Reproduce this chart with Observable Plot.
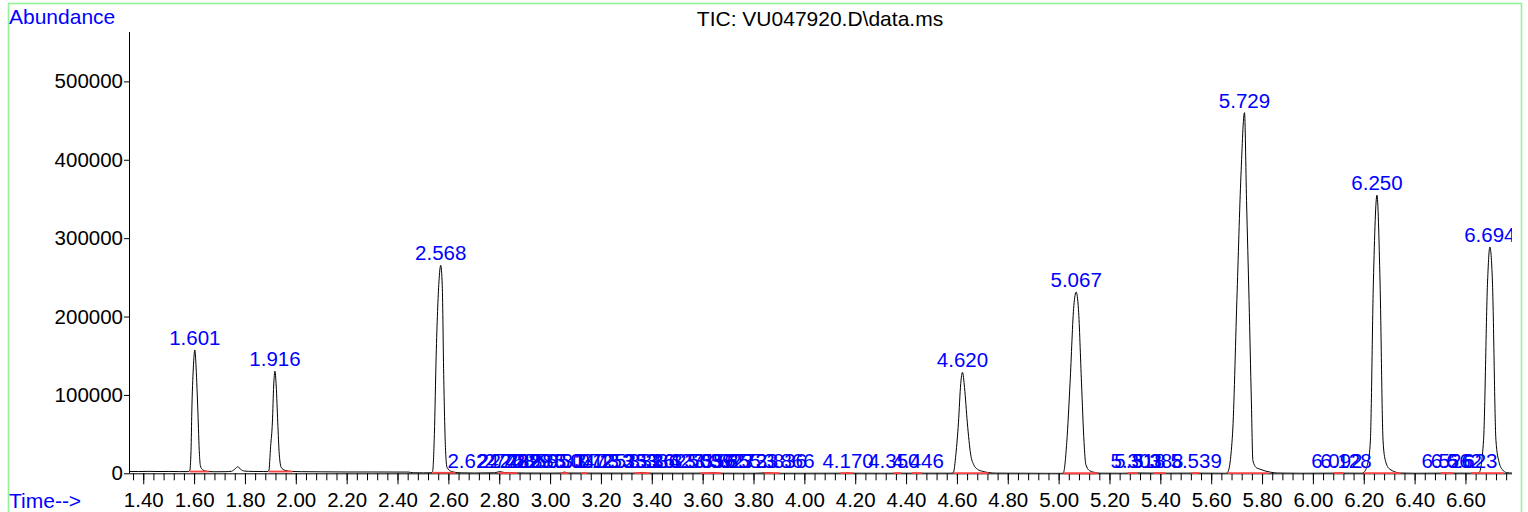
<!DOCTYPE html>
<html><head><meta charset="utf-8">
<script src="https://cdn.jsdelivr.net/npm/d3@7"></script>
<script src="https://cdn.jsdelivr.net/npm/@observablehq/plot@0.6"></script>
<style>html,body{margin:0;padding:0;background:#fff;} svg{display:block;}</style>
</head><body><div id="chart"></div>
<script>
// ---- data ----
const titleText = "TIC: VU047920.D\\data.ms";
const yTicks = [0, 100000, 200000, 300000, 400000, 500000];
const xTickLabels = ["1.40","1.60","1.80","2.00","2.20","2.40","2.60","2.80","3.00","3.20","3.40","3.60","3.80","4.00","4.20","4.40","4.60","4.80","5.00","5.20","5.40","5.60","5.80","6.00","6.20","6.40","6.60"];

// labelled main peaks: retention time and apex abundance
const mainPeakRT = ["1.601","1.916","2.568","4.620","5.067","5.729","6.250","6.694"];
const mainPeakHeight = [158000, 131000, 266000, 129500, 231800, 460700, 355500, 289400];
const mainIntStart = [1.581, 1.892, 2.535, 4.584, 5.017, 5.662, 6.198, 6.651];
const mainIntEnd   = [1.656, 1.985, 2.626, 4.723, 5.152, 5.824, 6.343, 6.750];
const mainIntLevel = [2900, 2900, 1300, 900, 700, 800, 800, 900];

// crowded small-peak labels 2.6 - 3.9 min
const clusterRT = ["2.624","2.742","2.768","2.789","2.829","2.856","2.885","2.950","3.047","3.072","3.125","3.153","3.253","3.316","3.336","3.362","3.427","3.503","3.556","3.592","3.623","3.655","3.723","3.836","3.866"];
const clusterHeight = [600,700,500,800,600,700,500,600,700,600,500,700,600,500,700,600,500,600,700,500,600,700,500,600,700];
// other small-peak labels
const smallRT = ["4.170","4.350","4.446","5.303","5.318","5.388","5.539","6.092","6.128","6.526","6.562","6.623"];
const smallHeight = [600,500,600,700,500,600,700,600,500,600,700,600];
const smallIntegrations = [[2.795,2.870],[3.040,3.070],[3.120,3.145],[3.330,3.390],[3.590,3.670],[3.840,3.900],[4.140,4.190],[4.350,4.380],[4.420,4.460],[5.270,5.310],[5.370,5.420],[5.520,5.550],[6.080,6.120],[6.500,6.550],[6.620,6.650]];
const smallIntLevel = 900;

// TIC trace points [time (min), abundance]
const tracePoints = [
  [1.344,3000],[1.380,2900],[1.420,3100],[1.460,2900],[1.500,3000],[1.540,2800],[1.575,2800],
  [1.581,4000],[1.586,30000],[1.589,79000],[1.595,135000],[1.601,158000],[1.606,135000],[1.613,79000],[1.619,25000],[1.623,10000],[1.632,5000],[1.645,3300],[1.656,2800],
  [1.680,2600],[1.720,2700],[1.745,3200],[1.760,6500],[1.770,9000],[1.780,6000],[1.795,3500],[1.830,3000],[1.870,2900],[1.885,2800],
  [1.892,4000],[1.899,35000],[1.906,66000],[1.911,112000],[1.916,131000],[1.921,112000],[1.927,66000],[1.933,25000],[1.941,8000],[1.955,4500],[1.984,2900],
  [2.020,2700],[2.100,2500],[2.200,2300],[2.300,2300],[2.400,2200],[2.440,2200],[2.460,1300],[2.500,1200],[2.530,1300],
  [2.536,3000],[2.543,50000],[2.550,150000],[2.561,245000],[2.568,266000],[2.574,240000],[2.580,120000],[2.587,30000],[2.593,8000],[2.610,3000],[2.633,1500],
  [2.650,1200],[2.700,1000],[2.780,1300],[2.800,2800],[2.820,1500],[2.900,1000],[3.000,900],[3.040,1000],[3.055,2200],[3.070,1000],
  [3.200,900],[3.340,900],[3.360,1800],[3.380,900],[3.500,800],[3.620,900],[3.640,1600],[3.660,800],[3.800,700],[3.860,1400],[3.880,700],
  [4.000,700],[4.160,800],[4.170,1200],[4.180,800],[4.300,700],[4.450,800],[4.575,800],
  [4.584,1500],[4.594,25000],[4.604,65000],[4.613,115000],[4.620,129500],[4.628,110000],[4.639,65000],[4.652,25000],[4.665,11000],[4.678,6000],[4.700,3000],[4.724,1500],[4.750,900],
  [4.800,800],[4.950,600],[5.010,600],
  [5.017,1500],[5.030,40000],[5.043,116000],[5.058,215000],[5.067,231800],[5.076,210000],[5.088,116000],[5.098,40000],[5.105,12000],[5.120,4000],[5.144,1500],[5.160,800],
  [5.250,700],[5.310,1100],[5.400,800],[5.540,900],[5.655,700],
  [5.663,2000],[5.682,51000],[5.699,221000],[5.715,380000],[5.729,460700],[5.737,349000],[5.747,221000],[5.756,93000],[5.762,17000],[5.775,8000],[5.789,6000],[5.832,2000],[5.860,1000],
  [5.950,700],[6.100,900],[6.190,800],
  [6.197,1500],[6.215,15000],[6.224,42000],[6.236,246000],[6.250,355500],[6.262,246000],[6.274,42000],[6.283,17000],[6.300,6000],[6.343,1000],
  [6.400,700],[6.530,900],[6.645,800],
  [6.652,1500],[6.669,42000],[6.685,246000],[6.694,289400],[6.704,246000],[6.718,42000],[6.730,15000],[6.744,5000],[6.760,1500],[6.783,900]
];

// ---- build tables ----
const majorTicks = xTickLabels.map(Number);
const minorTicks = d3.range(1.36, 6.78, 0.04).map(v => Math.round(v * 100) / 100);
const mainLabels = mainPeakRT.map((s, i) => ({t: +s, a: mainPeakHeight[i], s}));
const clusterLabels = clusterRT.map((s, i) => ({t: +s, a: clusterHeight[i], s}));
const smallLabels = smallRT.map((s, i) => ({t: +s, a: smallHeight[i], s}));
const integrations = mainIntStart.map((s, i) => ({x1: s, x2: mainIntEnd[i], y: mainIntLevel[i]}))
  .concat(smallIntegrations.map(([a, b]) => ({x1: a, x2: b, y: smallIntLevel})));

const FONT = "'Liberation Sans', Arial, Helvetica, sans-serif";
const chart = Plot.plot({
  width: 1528, height: 512,
  marginLeft: 129, marginRight: 16, marginTop: 32, marginBottom: 38.7,
  style: {fontFamily: FONT, fontSize: "20.5px", color: "black", background: "white", overflow: "visible"},
  x: {domain: [1.344, 6.783], label: null},
  y: {domain: [0, 563000], label: null},
  marks: [
    Plot.axisY({ticks: yTicks, tickSize: 5, tickPadding: 1.5, tickFormat: d => String(d), label: null, fontSize: 20.5}),
    Plot.axisX({ticks: minorTicks, tickSize: 7, tickFormat: () => "", label: null}),
    Plot.axisX({ticks: majorTicks, tickSize: 11, tickPadding: 8, tickFormat: d => d.toFixed(2), label: null, fontSize: 20.5}),
    Plot.ruleX([1.344], {stroke: "black"}),
    Plot.ruleY([0], {stroke: "black"}),
    Plot.line(tracePoints, {x: d => d[0], y: d => d[1], curve: "monotone-x", stroke: "black", strokeWidth: 1, clip: true}),
    Plot.link(integrations, {x1: "x1", x2: "x2", y1: "y", y2: "y", stroke: "#ff4040", strokeWidth: 1.8}),
    Plot.text(mainLabels, {x: "t", y: "a", text: "s", fill: "#0000ff", lineAnchor: "bottom", dy: -5, fontSize: 20.5, clip: true}),
    Plot.text(clusterLabels, {x: "t", y: "a", text: "s", fill: "#0000ff", lineAnchor: "bottom", textAnchor: "start", dx: -7.5, dy: -5, fontSize: 20.5, clip: true}),
    Plot.text(smallLabels, {x: "t", y: "a", text: "s", fill: "#0000ff", lineAnchor: "bottom", dy: -5, fontSize: 20.5, clip: true})
  ]
});

const svg = d3.select(chart);
svg.insert("rect", ":first-child")
  .attr("x", 8.5).attr("y", 3.5).attr("width", 1513).attr("height", 530)
  .attr("fill", "none").attr("stroke", "#96f296").attr("stroke-width", 1.6);
svg.append("text").attr("x", 9).attr("y", 24).attr("fill", "#0000ff").attr("text-anchor", "start")
  .attr("font-family", FONT).attr("font-size", 21).text("Abundance");
svg.append("text").attr("x", 9).attr("y", 508).attr("fill", "#0000ff").attr("text-anchor", "start")
  .attr("font-family", FONT).attr("font-size", 21).text("Time-->");
svg.append("text").attr("x", 820).attr("y", 26).attr("fill", "black").attr("text-anchor", "middle")
  .attr("font-family", FONT).attr("font-size", 21).text(titleText);

document.getElementById("chart").appendChild(chart);
</script>
</body></html>
